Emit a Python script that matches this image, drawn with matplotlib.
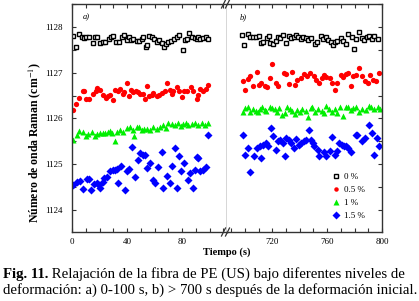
import numpy as np
import matplotlib.pyplot as plt
from matplotlib.ticker import MultipleLocator

plt.rcParams['font.family'] = ['Liberation Serif', 'DejaVu Serif']
plt.rcParams['mathtext.fontset'] = 'stix'

# ---------------- data : panel a) 0-100 s ----------------
t0_a = [0.97, 2.9, 5.3, 7.0, 8.7, 10.2, 12.6, 15.0, 16.7, 17.9, 20.4, 22.3, 24.0, 27.1, 28.1, 30.0,
        32.0, 34.4, 36.1, 37.8, 39.8, 41.4, 42.7, 44.6, 47.0, 49.0, 50.7, 51.9, 53.8, 54.8, 56.2,
        57.9, 59.9, 61.6, 63.5, 65.2, 66.9, 68.3, 70.0, 71.7, 74.2, 76.6, 78.0, 80.5, 82.2, 83.9,
        85.3, 87.0, 89.4, 90.6, 91.8, 93.1, 95.5, 97.2, 99.1]
y0_a = [1127.80, 1127.57, 1127.84, 1127.77, 1127.75, 1127.77, 1127.77, 1127.64, 1127.77, 1127.79,
        1127.64, 1127.66, 1127.68, 1127.73, 1127.77, 1127.80, 1127.66, 1127.66, 1127.79, 1127.82,
        1127.71, 1127.77, 1127.71, 1127.73, 1127.70, 1127.70, 1127.73, 1127.77, 1127.55, 1127.61,
        1127.80, 1127.77, 1127.73, 1127.68, 1127.71, 1127.64, 1127.57, 1127.63, 1127.68, 1127.70,
        1127.73, 1127.79, 1127.82, 1127.50, 1127.71, 1127.73, 1127.86, 1127.77, 1127.75, 1127.73,
        1127.79, 1127.73, 1127.75, 1127.79, 1127.73]

t05_a = [0.5, 2.9, 5.3, 7.8, 8.7, 10.2, 12.6, 15.0, 17.4, 18.4, 20.4, 22.8, 24.7, 26.4, 27.6, 29.6,
         31.3, 33.7, 34.9, 36.8, 37.8, 39.8, 41.4, 42.9, 44.6, 46.5, 48.2, 49.4, 51.4, 53.1, 54.8,
         56.2, 57.9, 59.1, 61.6, 63.5, 65.2, 67.6, 69.3, 71.3, 72.5, 73.7, 76.1, 78.0, 79.7, 81.4,
         83.4, 86.3, 88.2, 90.6, 91.8, 93.1, 95.0, 97.2, 99.1]
y05_a = [1126.19, 1126.31, 1126.44, 1126.59, 1126.61, 1126.42, 1126.42, 1126.54, 1126.61, 1126.66,
         1126.62, 1126.52, 1126.44, 1126.48, 1126.52, 1126.41, 1126.62, 1126.59, 1126.64, 1126.54,
         1126.57, 1126.77, 1126.48, 1126.62, 1126.57, 1126.61, 1126.57, 1126.54, 1126.54, 1126.42,
         1126.71, 1126.48, 1126.52, 1126.55, 1126.49, 1126.52, 1126.55, 1126.59, 1126.77, 1126.62,
         1126.54, 1126.59, 1126.68, 1126.61, 1126.46, 1126.61, 1126.59, 1126.68, 1126.61, 1126.42,
         1126.52, 1126.64, 1126.61, 1126.64, 1126.74]

t1_a = [1.0, 3.4, 5.3, 7.8, 10.2, 11.9, 14.3, 16.7, 18.4, 20.4, 22.3, 24.0, 25.9, 27.6, 29.3, 31.3,
        33.0, 34.9, 37.3, 39.8, 42.2, 44.1, 45.1, 47.0, 49.0, 50.7, 52.4, 54.3, 56.7, 59.1, 61.6,
        64.0, 66.4, 68.3, 70.0, 72.5, 74.9, 77.3, 79.0, 80.9, 82.9, 84.6, 87.0, 89.4, 91.8, 94.3,
        96.7, 99.1]
y1_a = [1125.52, 1125.64, 1125.73, 1125.71, 1125.61, 1125.66, 1125.71, 1125.62, 1125.66, 1125.68,
        1125.69, 1125.68, 1125.71, 1125.73, 1125.69, 1125.50, 1125.71, 1125.75, 1125.71, 1125.79,
        1125.82, 1125.75, 1125.62, 1125.81, 1125.82, 1125.75, 1125.77, 1125.77, 1125.75, 1125.81,
        1125.76, 1125.82, 1125.85, 1125.79, 1125.90, 1125.88, 1125.86, 1125.90, 1125.84, 1125.88,
        1125.91, 1125.86, 1125.87, 1125.90, 1125.86, 1125.91, 1125.86, 1125.90]

t15_a = [1.0, 3.4, 5.8, 7.8, 10.7, 12.6, 13.8, 16.2, 17.9, 19.9, 20.4, 22.3, 23.5, 25.2, 27.6, 29.6,
         31.3, 32.5, 33.7, 35.6, 38.5, 39.8, 41.7, 43.4, 45.8, 48.2, 49.4, 51.4, 53.1, 54.3, 56.7,
         59.1, 60.4, 62.8, 65.2, 66.4, 68.8, 71.3, 72.5, 74.9, 76.1, 77.8, 79.0, 81.4, 84.6, 85.8,
         87.7, 89.4, 90.6, 91.8, 93.1, 95.5, 97.2, 99.1]
y15_a = [1124.55, 1124.62, 1124.64, 1124.46, 1124.68, 1124.67, 1124.44, 1124.57, 1124.60, 1124.54,
         1124.49, 1124.62, 1124.70, 1124.73, 1124.86, 1124.88, 1124.88, 1124.89, 1124.59, 1124.96,
         1124.44, 1124.86, 1124.89, 1125.37, 1124.72, 1125.10, 1125.24, 1125.21, 1125.21, 1124.91,
         1125.02, 1124.66, 1124.59, 1124.94, 1125.26, 1124.48, 1124.75, 1124.60, 1124.96, 1125.35,
         1124.48, 1125.17, 1124.86, 1125.02, 1124.66, 1124.80, 1124.48, 1124.88, 1125.15, 1125.13,
         1124.85, 1124.88, 1124.95, 1125.64]

# ---------------- data : panel b) > 700 s ----------------
t0_b = [698.0, 699.7, 702.1, 703.9, 705.8, 708.3, 710.2, 711.9, 713.6, 716.1, 717.6, 718.5, 720.5,
        722.4, 724.2, 725.9, 727.8, 729.8, 732.2, 733.9, 735.7, 737.1, 738.8, 740.6, 742.5, 744.5,
        746.2, 748.6, 751.1, 752.8, 755.2, 756.9, 758.9, 760.9, 762.6, 764.3, 765.8, 767.5, 769.9,
        771.6, 773.6, 775.5, 778.0, 779.7, 781.4, 783.4, 785.3, 787.0, 788.8, 790.7, 792.7, 794.4,
        796.8]
y0_b = [1127.83, 1127.61, 1127.85, 1127.79, 1127.77, 1127.77, 1127.80, 1127.64, 1127.68, 1127.75,
        1127.80, 1127.64, 1127.63, 1127.70, 1127.79, 1127.75, 1127.83, 1127.64, 1127.80, 1127.75,
        1127.79, 1127.83, 1127.77, 1127.73, 1127.77, 1127.75, 1127.72, 1127.75, 1127.63, 1127.68,
        1127.80, 1127.73, 1127.79, 1127.72, 1127.68, 1127.61, 1127.66, 1127.70, 1127.75, 1127.70,
        1127.63, 1127.85, 1127.77, 1127.51, 1127.73, 1127.88, 1127.75, 1127.72, 1127.77, 1127.80,
        1127.73, 1127.80, 1127.73]

t05_b = [698.5, 700.4, 702.1, 703.9, 705.8, 708.7, 710.2, 711.9, 714.4, 716.1, 718.0, 720.0, 722.4,
         724.2, 728.3, 730.3, 732.2, 734.7, 736.4, 738.1, 740.6, 743.0, 745.0, 747.4, 750.3, 752.0,
         754.0, 756.0, 757.7, 759.4, 761.8, 763.3, 765.8, 767.5, 769.9, 771.6, 773.6, 775.5, 777.3,
         779.0, 780.9, 783.4, 785.3, 787.8, 789.5, 791.2, 793.2, 795.6, 797.6]
y05_b = [1126.82, 1126.62, 1126.86, 1126.92, 1126.70, 1127.02, 1126.73, 1126.78, 1126.70, 1126.68,
         1126.88, 1127.19, 1126.78, 1126.70, 1127.00, 1126.97, 1126.76, 1127.02, 1126.73, 1126.83,
         1126.88, 1126.97, 1126.93, 1126.99, 1126.92, 1126.84, 1126.77, 1126.88, 1126.95, 1126.90,
         1126.88, 1126.77, 1126.62, 1126.77, 1126.95, 1126.90, 1126.97, 1126.99, 1126.71, 1126.93,
         1126.95, 1127.10, 1126.93, 1126.81, 1126.77, 1126.95, 1126.84, 1126.81, 1126.99]

t1_b = [698.5, 700.4, 702.1, 703.9, 705.8, 707.8, 709.5, 710.7, 712.7, 714.4, 715.6, 718.0, 720.0,
        721.7, 723.4, 724.9, 727.3, 729.1, 730.8, 732.7, 734.7, 736.4, 738.1, 740.1, 742.0, 744.5,
        746.2, 747.9, 749.1, 751.1, 753.5, 756.0, 757.7, 759.4, 761.3, 763.3, 765.8, 767.5, 769.2,
        771.6, 773.6, 775.5, 777.3, 779.0, 780.9, 782.9, 785.3, 788.3, 790.2, 791.9, 794.4, 796.8,
        798.5]
y1_b = [1126.15, 1126.22, 1126.25, 1126.15, 1126.20, 1126.17, 1126.15, 1126.20, 1126.26, 1126.19,
        1126.17, 1126.25, 1126.22, 1126.20, 1126.15, 1126.22, 1126.08, 1126.13, 1126.25, 1126.20,
        1126.17, 1126.10, 1126.19, 1126.15, 1126.20, 1126.17, 1126.04, 1126.22, 1126.25, 1126.15,
        1126.20, 1126.17, 1126.12, 1126.28, 1126.20, 1126.15, 1126.20, 1126.13, 1126.25, 1126.06,
        1126.25, 1126.26, 1126.19, 1126.22, 1126.25, 1126.15, 1126.20, 1126.19, 1126.28, 1126.25,
        1126.20, 1126.25, 1126.20]

t15_b = [698.5, 700.4, 702.2, 703.9, 707.0, 708.8, 710.7, 711.8, 713.2, 715.1, 716.8, 718.8, 720.5,
         722.9, 724.2, 725.9, 727.8, 729.0, 730.3, 732.2, 734.0, 735.6, 737.6, 739.6, 741.3, 743.0,
         744.5, 746.9, 748.1, 749.6, 750.3, 753.5, 754.0, 757.7, 759.4, 761.8, 763.8, 765.8, 767.5,
         768.7, 770.6, 772.4, 773.6, 775.5, 777.3, 780.9, 782.1, 785.3, 787.8, 790.2, 792.7, 794.4,
         796.1, 798.0]
y15_b = [1125.64, 1125.21, 1125.35, 1124.84, 1125.17, 1125.35, 1125.40, 1125.13, 1125.42, 1125.46,
         1125.39, 1125.79, 1125.62, 1125.31, 1125.50, 1125.53, 1125.47, 1125.17, 1125.57, 1125.52,
         1125.46, 1125.35, 1125.55, 1125.42, 1125.46, 1125.50, 1125.53, 1125.75, 1125.53, 1125.47,
         1125.39, 1125.31, 1125.18, 1125.26, 1125.18, 1125.28, 1125.59, 1125.21, 1125.28, 1125.46,
         1125.42, 1125.40, 1125.39, 1125.35, 1125.26, 1125.64, 1125.64, 1125.50, 1125.57, 1125.86,
         1125.68, 1125.21, 1125.57, 1125.39]

labels = ['0 %', '0.5 %', '1 %', '1.5 %']
colors = ['black', '#ff0000', '#00ee00', '#0000ff']

caption_bold = 'Fig. 11.'
caption_1 = ' Relajación de la fibra de PE (US) bajo diferentes niveles de'
caption_2 = 'deformación: a) 0-100 s, b) > 700 s después de la deformación inicial.'

#######################################
W, H = 419, 301
fig = plt.figure(figsize=(W/100, H/100), dpi=100)
axa = fig.add_axes([72/W, 1-232/H, 155/W, 228/H])
axb = fig.add_axes([227/W, 1-232/H, 155/W, 228/H])


def draw(ax, t0, y0, t05, y05, t1, y1, t15, y15):
    ax.plot(t0, y0, 's', ms=3.0, mfc='white', mec=colors[0], mew=1.0, label=labels[0])
    ax.plot(t05, y05, 'o', ms=3.8, color=colors[1], mec='none', label=labels[1])
    ax.plot(t1, y1, '^', ms=4.8, color=colors[2], mec='none', label=labels[2])
    ax.plot(t15, y15, 'D', ms=4.4, color=colors[3], mec='none', label=labels[3])
    ax.set_ylim(1123.52, 1128.5)
    ax.yaxis.set_major_locator(MultipleLocator(1))
    ax.yaxis.set_minor_locator(MultipleLocator(0.5))
    ax.xaxis.set_major_locator(MultipleLocator(40))
    ax.xaxis.set_minor_locator(MultipleLocator(10))
    for s in ax.spines.values():
        s.set_color('#333333')
        s.set_linewidth(1.0)
    ax.tick_params(which='both', direction='in', length=3, width=0.8, color='#333333',
                   labelsize=6.5)
    ax.tick_params(axis='x', pad=4)
    ax.tick_params(axis='y', pad=7)


draw(axa, t0_a, y0_a, t05_a, y05_a, t1_a, y1_a, t15_a, y15_a)
draw(axb, t0_b, y0_b, t05_b, y05_b, t1_b, y1_b, t15_b, y15_b)

axa.set_xlim(0, 112.7)
axb.set_xlim(687, 800)

axa.tick_params(which='both', top=True, right=False, left=True, bottom=True)
axb.tick_params(which='both', top=True, right=True, left=False, bottom=True, labelleft=False)
axb.spines['left'].set_visible(False)

axa.text(0.07, 0.94, 'a)', transform=axa.transAxes, fontsize=6, style='italic', va='center')
axb.text(0.08, 0.94, 'b)', transform=axb.transAxes, fontsize=6, style='italic', va='center')

axb.legend(loc='lower right', bbox_to_anchor=(0.93, 0.025), frameon=False, fontsize=6.5,
           handletextpad=0.3, labelspacing=0.5, borderpad=0.2, handlelength=1.2,
           markerscale=0.85)

# break marks
for yb in (1-4/H, 1-232/H):
    for dx in (-3.5, 0.5):
        x0 = (227 + dx)/W
        fig.add_artist(plt.Line2D([x0 - 2/W, x0 + 2/W], [yb - 4/H, yb + 4/H],
                                  transform=fig.transFigure, color='#333333', lw=0.9))

fig.text(227/W, 1-252.5/H, 'Tiempo (s)', ha='center', va='center', fontsize=7.5,
         fontweight='bold')
fig.text(35/W, 1-143/H, 'Número de onda Raman (cm$^{-1}$)', ha='center', va='center',
         rotation=90, fontsize=8.5, fontweight='bold')

# caption, sized so each line spans the figure width like the printed one
fs = 10
tb = fig.text(3/W, 1-278/H, caption_bold, ha='left', va='baseline', fontsize=fs,
              fontweight='bold')
t1 = fig.text(3/W, 1-278/H, caption_1, ha='left', va='baseline', fontsize=fs)
t2 = fig.text(3/W, 1-294/H, caption_2, ha='left', va='baseline', fontsize=fs)
r = fig.canvas.get_renderer()
w2 = t2.get_window_extent(r).width
fs = fs*413/w2
for t in (tb, t1, t2):
    t.set_fontsize(fs)
wb = tb.get_window_extent(r).width
t1.set_x((3 + wb)/W)

fig.savefig('out.png', dpi=100)
